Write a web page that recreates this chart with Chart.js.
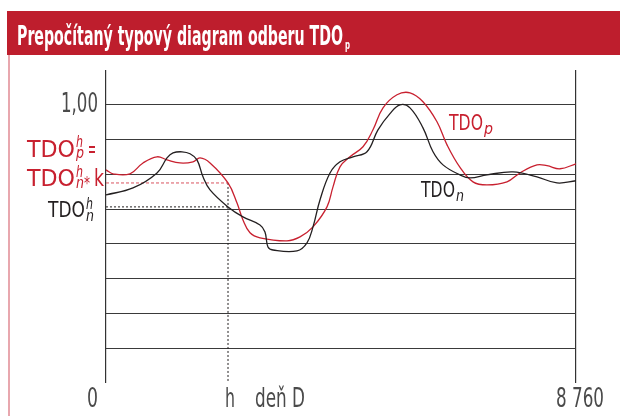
<!DOCTYPE html>
<html>
<head>
<meta charset="utf-8">
<script src="https://cdn.jsdelivr.net/npm/chart.js@4/dist/chart.umd.min.js"></script>
<style>
  html, body { margin: 0; padding: 0; background: #fff; }
  #wrap { position: relative; width: 620px; height: 416px; }
</style>
</head>
<body>
<div id="wrap"><canvas id="chart" width="620" height="416"></canvas></div>
<script>
// hodiny roka (0 .. 8760) a relativne hodnoty TDO
const hoursN = [0, 503, 951, 1137, 1249, 1417, 1566, 1696, 1808, 1939, 2274, 2553, 2870, 2963, 3019, 3112, 3560, 3746, 3858, 3988, 4175, 4361, 4603, 4864, 5069, 5293, 5479, 5666, 5908, 6095, 6281, 6598, 6784, 7101, 7586, 8033, 8406, 8760];
const valuesN = [0.676, 0.701, 0.755, 0.809, 0.827, 0.831, 0.824, 0.802, 0.741, 0.694, 0.633, 0.597, 0.568, 0.543, 0.489, 0.478, 0.475, 0.504, 0.561, 0.658, 0.755, 0.795, 0.813, 0.831, 0.910, 0.968, 1.000, 0.989, 0.917, 0.831, 0.784, 0.748, 0.737, 0.748, 0.759, 0.741, 0.719, 0.727];

const hoursP = [0, 130, 447, 690, 951, 1137, 1379, 1622, 1752, 1939, 2274, 2442, 2553, 2684, 2870, 3373, 3616, 3858, 4119, 4231, 4361, 4547, 4790, 4976, 5163, 5424, 5666, 5908, 6169, 6356, 6598, 6840, 7101, 7474, 7716, 8033, 8219, 8462, 8760];
const valuesP = [0.766, 0.752, 0.752, 0.791, 0.813, 0.802, 0.791, 0.795, 0.809, 0.791, 0.719, 0.647, 0.586, 0.540, 0.522, 0.511, 0.525, 0.561, 0.633, 0.705, 0.777, 0.813, 0.849, 0.910, 0.989, 1.036, 1.043, 1.011, 0.939, 0.856, 0.775, 0.723, 0.712, 0.723, 0.755, 0.784, 0.781, 0.770, 0.788];

const hourH = 2274;        // hodina h
const levelN = 0.633;      // TDO_n v hodine h
const levelP = 0.719;      // TDO_p v hodine h
const yMax = 1.125;
const yStep = 0.125;
const xMax = 8760;

const RED = "#C8202F";
const BLACK = "#231F20";
const GRAY = "#4a4a4a";
const FAM = '"DejaVu Sans Condensed", "Liberation Sans Narrow", "DejaVu Sans", sans-serif';

const toPoints = (xs, ys) => xs.map((x, i) => ({x: x, y: ys[i]}));

// text natiahnuty/stlaceny na zadanu sirku
function fitText(ctx, str, x, y, w, font, color) {
  ctx.save();
  ctx.font = font;
  const m = ctx.measureText(str).width;
  ctx.translate(x, y);
  ctx.scale(w / m, 1);
  ctx.fillStyle = color;
  ctx.textBaseline = "alphabetic";
  ctx.textAlign = "left";
  ctx.fillText(str, 0, 0);
  ctx.restore();
}

const decor = {
  id: "decor",
  beforeDraw(chart) {
    const ctx = chart.ctx;
    ctx.save();
    ctx.fillStyle = "#fff";
    ctx.fillRect(0, 0, chart.width, chart.height);
    // hlavicka
    ctx.fillStyle = "#BE1E2D";
    ctx.fillRect(7, 11, 613, 44);
    // lavy okraj
    ctx.strokeStyle = "#E08A93";
    ctx.lineWidth = 1.5;
    ctx.beginPath();
    ctx.moveTo(9, 55);
    ctx.lineTo(9, 416);
    ctx.stroke();
    ctx.restore();

    fitText(ctx, "Prepočítaný typový diagram odberu TDO", 17, 45, 326, "bold 27px " + FAM, "#fff");
    fitText(ctx, "p", 345, 49, 5, "bold 13px " + FAM, "#fff");
  },
  afterDraw(chart) {
    const ctx = chart.ctx;
    const xs = chart.scales.x, ys = chart.scales.y;
    const y1 = ys.getPixelForValue(1);
    fitText(ctx, "1,00", 61, y1 + 7, 37, "26px " + FAM, GRAY);

    // os x
    const x0 = xs.getPixelForValue(0), xh = xs.getPixelForValue(hourH), xe = xs.getPixelForValue(xMax);
    fitText(ctx, "0", x0 - 19, 407, 11, "27px " + FAM, GRAY);
    fitText(ctx, "h", xh - 3, 407, 10, "27px " + FAM, GRAY);
    fitText(ctx, "deň D", xh + 27, 407, 50, "27px " + FAM, GRAY);
    fitText(ctx, "8 760", xe - 20, 407, 48, "27px " + FAM, GRAY);

    // popisy vlavo
    const it = "italic 16px " + FAM;
    fitText(ctx, "TDO", 27, 157, 48, "23px " + FAM, RED);
    fitText(ctx, "h", 76, 147, 7, it, RED);
    fitText(ctx, "p", 76, 158, 8, it, RED);
    fitText(ctx, "=", 88, 157, 8, "23px " + FAM, RED);

    fitText(ctx, "TDO", 27, 186, 48, "23px " + FAM, RED);
    fitText(ctx, "h", 76, 177, 7, it, RED);
    fitText(ctx, "n", 76, 188, 8, it, RED);
    fitText(ctx, "*", 84, 189, 6, "17px " + FAM, RED);
    fitText(ctx, "k", 94, 186, 10, "23px " + FAM, RED);

    fitText(ctx, "TDO", 48, 217, 37, "21px " + FAM, BLACK);
    fitText(ctx, "h", 86, 209, 7, "italic 15px " + FAM, BLACK);
    fitText(ctx, "n", 86, 221, 8, "italic 15px " + FAM, BLACK);

    // popisy kriviek
    fitText(ctx, "TDO", 449, 130, 34, "22px " + FAM, RED);
    fitText(ctx, "p", 484, 134, 9, it, RED);
    fitText(ctx, "TDO", 421, 197, 34, "22px " + FAM, BLACK);
    fitText(ctx, "n", 456, 201, 8, it, BLACK);
  }
};

const ctx = document.getElementById("chart").getContext("2d");

const data = {
  datasets: [
    {
      label: "TDO n",
      data: toPoints(hoursN, valuesN),
      borderColor: BLACK,
      borderWidth: 1.3,
      pointRadius: 0,
      tension: 0.4,
      fill: false
    },
    {
      label: "TDO p",
      data: toPoints(hoursP, valuesP),
      borderColor: RED,
      borderWidth: 1.3,
      pointRadius: 0,
      tension: 0.4,
      fill: false
    },
    {
      label: "p h",
      data: [{x: 0, y: levelP}, {x: hourH, y: levelP}],
      borderColor: "#D9535F",
      borderWidth: 1,
      borderDash: [3, 2],
      pointRadius: 0,
      tension: 0
    },
    {
      label: "n h",
      data: [{x: 0, y: levelN}, {x: hourH, y: levelN}],
      borderColor: BLACK,
      borderWidth: 1,
      borderDash: [2, 2],
      pointRadius: 0,
      tension: 0
    },
    {
      label: "h",
      data: [{x: hourH, y: levelP}, {x: hourH, y: 0}],
      borderColor: BLACK,
      borderWidth: 1,
      borderDash: [2, 2],
      pointRadius: 0,
      tension: 0
    }
  ]
};

const options = {
  responsive: false,
  animation: false,
  events: [],
  layout: {
    padding: {left: 106, right: 44, top: 70, bottom: 33}
  },
  plugins: {
    legend: {display: false},
    tooltip: {enabled: false}
  },
  scales: {
    x: {
      type: "linear",
      min: 0,
      max: xMax,
      ticks: {display: false, stepSize: xMax},
      grid: {color: "#333", lineWidth: 1.2, drawTicks: false},
      border: {display: false}
    },
    y: {
      type: "linear",
      min: 0,
      max: yMax,
      ticks: {display: false, stepSize: yStep},
      grid: {
        color: (c) => (c.tick && (c.tick.value < 0.01 || c.tick.value > 1.01)) ? "rgba(0,0,0,0)" : "#3a3a3a",
        lineWidth: 1,
        drawTicks: false
      },
      border: {display: false}
    }
  }
};

new Chart(ctx, {
  type: "line",
  data: data,
  options: options,
  plugins: [decor]
});
</script>
</body>
</html>
